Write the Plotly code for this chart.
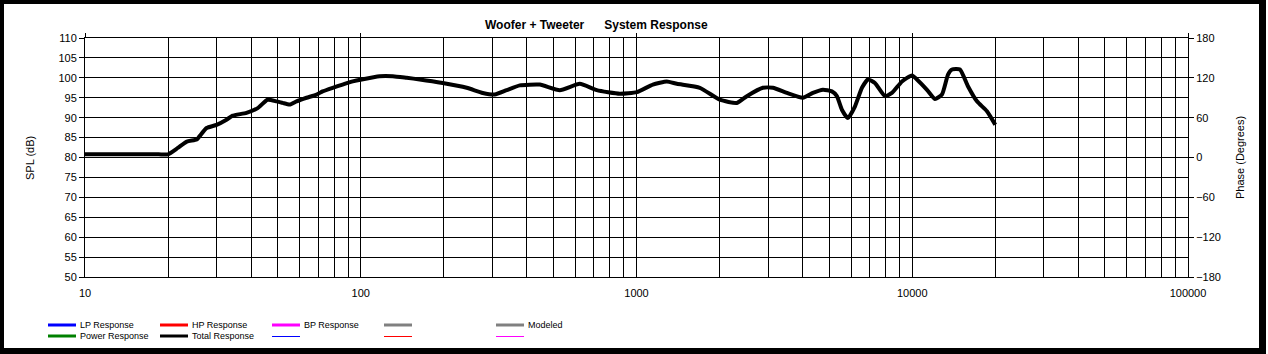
import plotly.graph_objects as go

# ---- data ----
freq_hz = [10, 15, 18.5, 20, 21.7, 23.4, 25.4, 26.0, 27.6, 30.0, 32.6, 34.3, 38.5, 42.3, 45.9, 49.5,
           52.1, 55.2, 58.5, 63.6, 69.2, 72.7, 79.1, 85.9, 93.5, 100.8, 117.1, 130.6, 146.8,
           163.6, 198.2, 242.2, 276.9, 306.1, 338.3, 377.3, 445.9, 526.9, 622.8, 717.8,
           869.8, 1002.6, 1146, 1288, 1401, 1697, 2006, 2312, 2513, 2873, 3124, 3512, 4012,
           4362, 4742, 5111, 5330, 5557, 5844, 6195, 6570, 6908, 7322, 7962, 8440, 9176,
           9975, 10400, 11310, 12088, 12816, 13476, 13932, 14894, 15922, 17167, 18664, 20000]
spl_db = [80.8, 80.8, 80.8, 80.8, 82.4, 84.0, 84.5, 85.3, 87.4, 88.2, 89.5, 90.5, 91.2, 92.4, 94.5, 94.1,
          93.7, 93.3, 94.1, 95.0, 95.8, 96.6, 97.5, 98.3, 99.1, 99.6, 100.4, 100.4, 100.0,
          99.6, 98.7, 97.5, 96.2, 95.8, 96.9, 98.1, 98.3, 96.9, 98.5, 96.9,
          96.0, 96.4, 98.3, 99.1, 98.5, 97.5, 94.5, 93.7, 95.4, 97.5, 97.5, 96.2, 95.0,
          96.2, 97.0, 96.6, 95.4, 92.0, 89.9, 92.8, 97.5, 99.6, 98.7, 95.4, 96.2, 99.1,
          100.6, 99.6, 97.0, 94.7, 95.8, 100.8, 102.1, 102.1, 97.9, 94.1, 91.6, 88.2]

x_decades = [10, 100, 1000, 10000, 100000]
x_gridvals = [m * 10 ** k for k in range(1, 5) for m in range(1, 10)] + [100000]
x_ticktext = [str(v) if v in x_decades else "" for v in x_gridvals]
spl_ticks = list(range(50, 111, 5))
phase_ticks = [-180, -120, -60, 0, 60, 120, 180]

title_left = "Woofer + Tweeter"
title_right = "System Response"
legend_row1 = [("LP Response", "#0000ff"), ("HP Response", "#ff0000"),
               ("BP Response", "#ff00ff"), ("", "#808080"), ("Modeled", "#808080")]
legend_row2 = [("Power Response", "#008000", 3), ("Total Response", "#000000", 3),
               ("", "#0000ff", 1), ("", "#ff0000", 1), ("", "#ff00ff", 1)]

# ---- layout geometry ----
W, H = 1268, 354
ML, MR, MT, MB = 85, 80, 38, 77
PW, PH = W - ML - MR, H - MT - MB


def px(x):
    return (x - ML) / PW


def py(y):
    return (H - MB - y) / PH


FONT = "Liberation Sans, Arial, sans-serif"

fig = go.Figure()
fig.add_trace(go.Scatter(x=freq_hz, y=spl_db, mode="lines",
                         line=dict(color="black", width=4, shape="spline", smoothing=0.5),
                         showlegend=False, hoverinfo="x+y"))
fig.add_trace(go.Scatter(x=[], y=[], yaxis="y2", showlegend=False))

shapes = []
annotations = []

# outer frame
for x0, y0, x1, y1 in [(0, 0, 1263, 4), (0, 0, 4, 350), (1259, 0, 1266, 354), (0, 348, 1266, 354)]:
    shapes.append(dict(type="rect", xref="paper", yref="paper",
                       x0=px(x0), x1=px(x1), y0=py(y1), y1=py(y0),
                       fillcolor="black", line=dict(width=0), layer="above"))

# legend
starts = [48, 160, 272, 384, 496]
for i, (name, col) in enumerate(legend_row1):
    x0 = starts[i]
    shapes.append(dict(type="line", xref="paper", yref="paper",
                       x0=px(x0), x1=px(x0 + 28), y0=py(325), y1=py(325),
                       line=dict(color=col, width=3)))
    if name:
        annotations.append(dict(x=px(x0 + 30), y=py(325), xref="paper", yref="paper",
                                text=name, showarrow=False, xanchor="left", yanchor="middle",
                                font=dict(family=FONT, size=9, color="black")))
for i, (name, col, w) in enumerate(legend_row2):
    x0 = starts[i]
    yy = 336 if w > 1 else 336.5
    shapes.append(dict(type="line", xref="paper", yref="paper",
                       x0=px(x0), x1=px(x0 + 28), y0=py(yy), y1=py(yy),
                       line=dict(color=col, width=w)))
    if name:
        annotations.append(dict(x=px(x0 + 30), y=py(336), xref="paper", yref="paper",
                                text=name, showarrow=False, xanchor="left", yanchor="middle",
                                font=dict(family=FONT, size=9, color="black")))

# title & axis titles
annotations.append(dict(x=px(596), y=py(25), xref="paper", yref="paper",
                        text="<b>" + title_left + "&nbsp;&nbsp;&nbsp;&nbsp;&nbsp;&nbsp;" + title_right + "</b>",
                        showarrow=False, xanchor="center", yanchor="middle",
                        font=dict(family=FONT, size=12, color="black")))
annotations.append(dict(x=px(30), y=py(158), xref="paper", yref="paper", text="SPL (dB)",
                        textangle=-90, showarrow=False, xanchor="center", yanchor="middle",
                        font=dict(family=FONT, size=11, color="black")))
annotations.append(dict(x=px(1240), y=py(158), xref="paper", yref="paper", text="Phase (Degrees)",
                        textangle=-90, showarrow=False, xanchor="center", yanchor="middle",
                        font=dict(family=FONT, size=11, color="black")))

fig.update_layout(
    width=W, height=H,
    margin=dict(l=ML, r=MR, t=MT, b=MB, pad=0),
    paper_bgcolor="white", plot_bgcolor="white",
    font=dict(family=FONT, size=11, color="black"),
    showlegend=False,
    xaxis=dict(type="log", range=[1, 5], tickmode="array", tickvals=x_gridvals,
               ticktext=x_ticktext, ticks="", showgrid=True, gridcolor="black",
               gridwidth=1, showline=True, linecolor="black", linewidth=1, mirror=True,
               zeroline=False, tickfont=dict(size=11), ticklabelstandoff=6),
    xaxis2=dict(type="log", range=[1, 5], overlaying="x", side="top", tickmode="array",
                tickvals=x_decades, ticktext=["" for _ in x_decades], ticks="outside",
                ticklen=4, tickcolor="black", showgrid=False, showline=False),
    yaxis=dict(range=[50, 110], tickmode="array", tickvals=spl_ticks, ticks="outside",
               ticklen=5, tickcolor="black", showgrid=True, gridcolor="black", gridwidth=1,
               showline=True, linecolor="black", linewidth=1, zeroline=False,
               tickfont=dict(size=11)),
    yaxis2=dict(range=[-180, 180], overlaying="y", side="right", tickmode="array",
                tickvals=phase_ticks, ticks="outside", ticklen=5, tickcolor="black",
                showgrid=False, showline=True, linecolor="black", zeroline=False,
                tickfont=dict(size=11)),
    shapes=shapes, annotations=annotations,
)
fig.add_trace(go.Scatter(x=[], y=[], xaxis="x2", showlegend=False))

fig.write_html("out.html")
